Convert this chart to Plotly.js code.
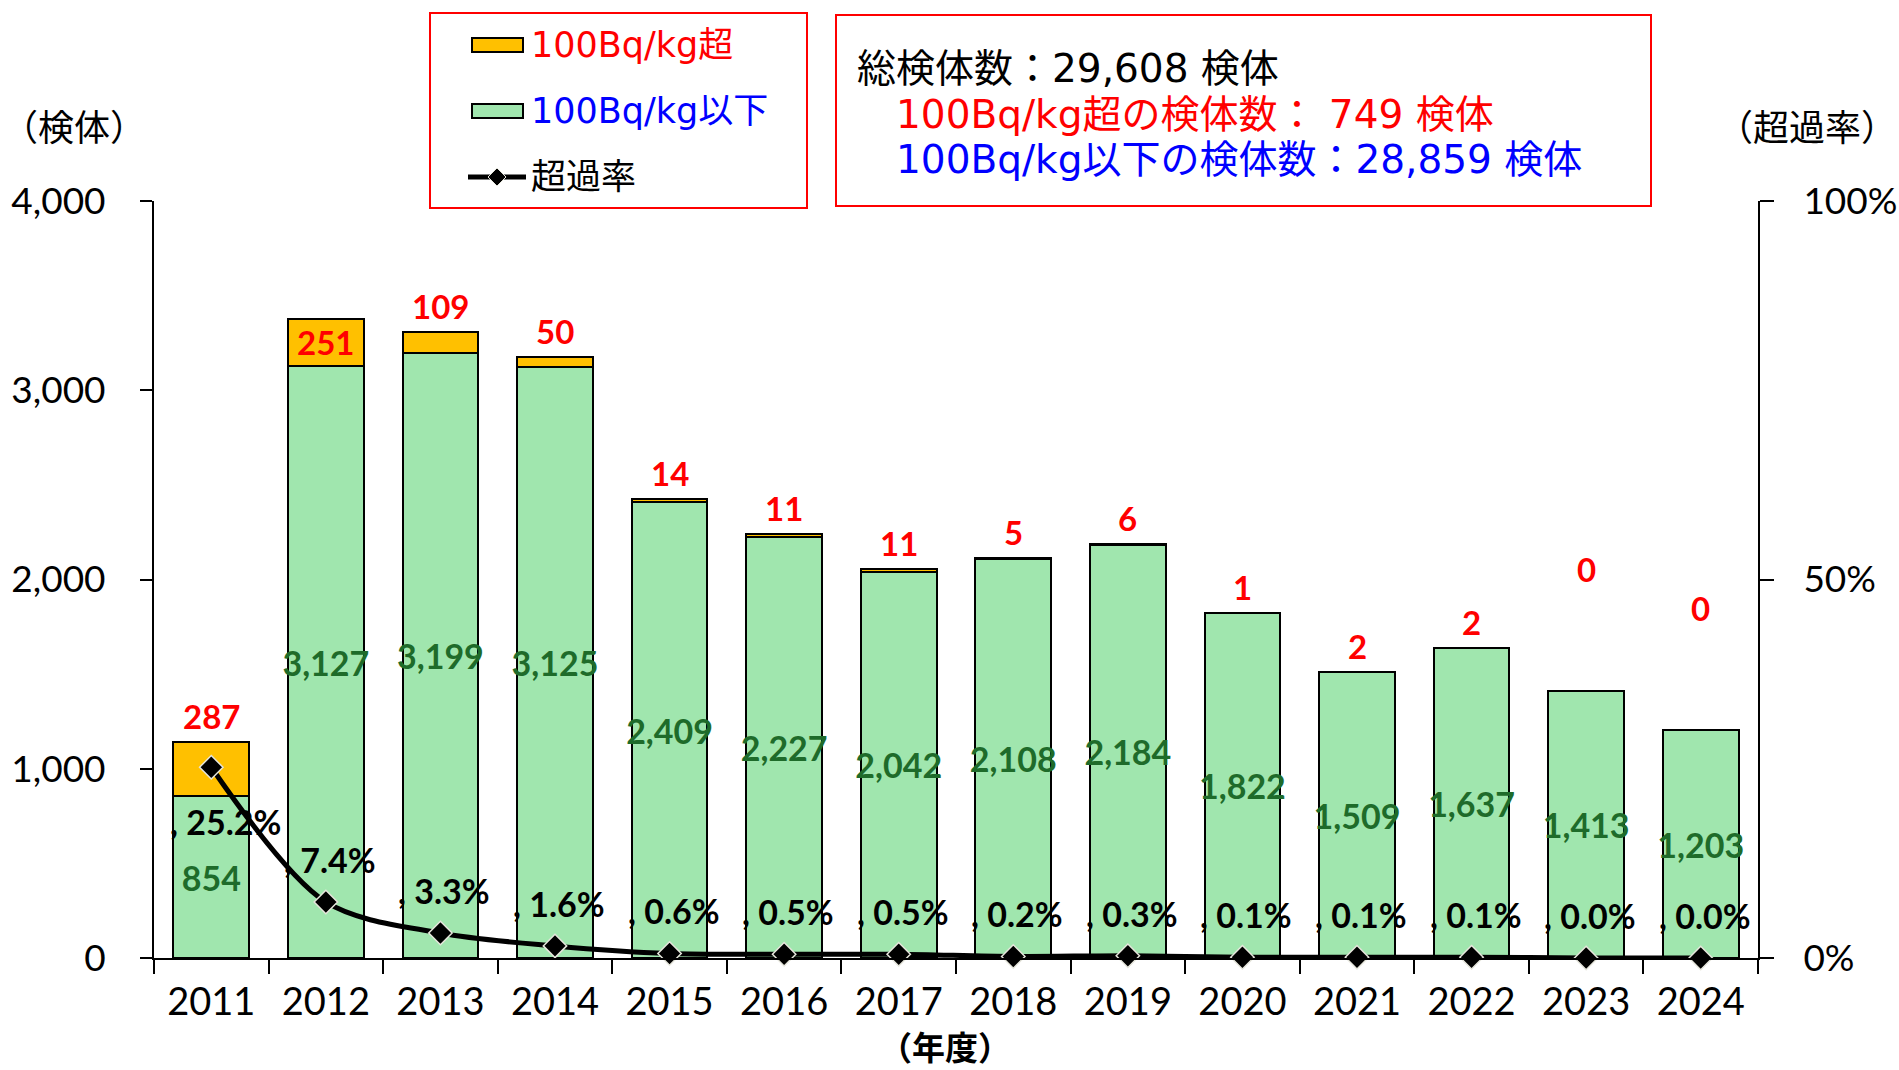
<!DOCTYPE html>
<html>
<head>
<meta charset="utf-8">
<script src="https://cdn.plot.ly/plotly-3.0.1.min.js"></script>
<style>
  html, body { margin: 0; padding: 0; background: #fff; }
  #chart { width: 1899px; height: 1070px; }
</style>
</head>
<body>
<div id="chart"></div>
<script>
// 年度
const years = ['2011', '2012', '2013', '2014', '2015', '2016', '2017',
               '2018', '2019', '2020', '2021', '2022', '2023', '2024'];
// 100Bq/kg超の検体数
const overCounts = [287, 251, 109, 50, 14, 11, 11, 5, 6, 1, 2, 2, 0, 0];
// 100Bq/kg以下の検体数
const underCounts = [854, 3127, 3199, 3125, 2409, 2227, 2042, 2108, 2184, 1822, 1509, 1637, 1413, 1203];
// 超過率 (%)
const exceedRate = [25.2, 7.4, 3.3, 1.6, 0.6, 0.5, 0.5, 0.2, 0.3, 0.1, 0.1, 0.1, 0.0, 0.0];

const W = 1899, H = 1070;
const M = { l: 154, r: 141, t: 201, b: 112 };
const plotW = W - M.l - M.r;
const plotH = H - M.t - M.b;
// pixel -> paper coords
const px = x => (x - M.l) / plotW;
const py = y => (H - M.b - y) / plotH;

const latinFont = 'Lato, "Noto Sans CJK JP", sans-serif';
const boxFont = '"DejaVu Sans", "Noto Sans CJK JP", sans-serif';
const cjkFont = '"Noto Sans CJK JP", sans-serif';

const fmt = n => n.toLocaleString('en-US');
const sum = a => a.reduce((s, v) => s + v, 0);

const green = '#A0E6AE';
const orange = '#FFC000';

const traces = [
    {
        type: 'bar',
        x: years,
        y: underCounts,
        name: '100Bq/kg以下',
        marker: { color: green, line: { color: '#000', width: 2 } },
        text: underCounts.map(v => '<b>' + fmt(v) + '</b>'),
        textposition: 'inside',
        insidetextanchor: 'middle',
        constraintext: 'none',
        textangle: 0,
        textfont: { family: latinFont, size: 34, color: '#1E6B2A' }
    },
    {
        type: 'bar',
        x: years,
        y: overCounts,
        name: '100Bq/kg超',
        marker: { color: orange, line: { color: '#000', width: 2 } }
    },
    {
        type: 'scatter',
        mode: 'lines+markers',
        x: years,
        y: exceedRate,
        yaxis: 'y2',
        name: '超過率',
        cliponaxis: false,
        line: { color: '#000', width: 5, shape: 'spline', smoothing: 0.9 },
        marker: { symbol: 'diamond', size: 18, color: '#000', line: { color: '#E6E6DC', width: 1.5 } }
    }
];

const annotations = [];

// 100Bq/kg超 labels (inside the orange segment only where it is tall and the line doesn't cross it)
years.forEach((yr, i) => {
    const v = overCounts[i];
    const inside = v > 150 && exceedRate[i] < 20;
    annotations.push({
        x: i, y: inside ? underCounts[i] + v / 2 : underCounts[i] + v,
        xref: 'x', yref: 'y',
        text: '<b>' + v + '</b>',
        showarrow: false,
        xanchor: 'center',
        yanchor: inside ? 'middle' : 'bottom',
        yshift: inside ? 0 : (v === 0 ? 100 : 4),
        font: { family: latinFont, size: 33, color: '#FF0000' }
    });
});

// 超過率 labels
years.forEach((yr, i) => {
    const r = exceedRate[i];
    const below = r > 10;
    annotations.push({
        x: i, y: r,
        xref: 'x', yref: 'y2',
        text: '<b>, ' + r.toFixed(1) + '%</b>',
        showarrow: false,
        xanchor: 'center',
        yanchor: below ? 'top' : 'bottom',
        yshift: below ? -32 : 20,
        xshift: below ? 14 : 4,
        font: { family: latinFont, size: 34, color: '#000' }
    });
});

// axis titles
annotations.push(
    { xref: 'paper', yref: 'paper', x: px(0), y: py(125), xanchor: 'left', yanchor: 'middle',
      text: '（検体）', showarrow: false, font: { family: cjkFont, size: 36, color: '#000' } },
    { xref: 'paper', yref: 'paper', x: px(1899), y: py(125), xanchor: 'right', yanchor: 'middle',
      text: '（超過率）', showarrow: false, font: { family: cjkFont, size: 36, color: '#000' } },
    { xref: 'paper', yref: 'paper', x: px(945), y: py(1046), xanchor: 'center', yanchor: 'middle',
      text: '<b>（年度）</b>', showarrow: false, font: { family: cjkFont, size: 33, color: '#000' } }
);

// summary box
const overTotal = sum(overCounts);
const underTotal = sum(underCounts);
const summaryLines = [
    { text: '総検体数：' + fmt(overTotal + underTotal) + ' 検体', color: '#000', x: 855, y: 69 },
    { text: '100Bq/kg超の検体数： ' + fmt(overTotal) + ' 検体', color: '#FF0000', x: 894, y: 114 },
    { text: '100Bq/kg以下の検体数：' + fmt(underTotal) + ' 検体', color: '#0000FF', x: 894, y: 159 }
];
summaryLines.forEach(l => annotations.push({
    xref: 'paper', yref: 'paper', x: px(l.x), y: py(l.y), xanchor: 'left', yanchor: 'middle',
    text: l.text, showarrow: false,
    font: { family: boxFont, size: 39, color: l.color }
}));

// legend (drawn by hand to get the wide Excel swatches)
const legendItems = [
    { text: '100Bq/kg超', color: '#FF0000', y: 45, fill: orange },
    { text: '100Bq/kg以下', color: '#0000FF', y: 111, fill: green },
    { text: '超過率', color: '#000', y: 177, fill: null }
];
const shapes = [
    { type: 'rect', xref: 'paper', yref: 'paper', x0: px(430), x1: px(807), y0: py(208), y1: py(13),
      line: { color: '#FF0000', width: 2 } },
    { type: 'rect', xref: 'paper', yref: 'paper', x0: px(836), x1: px(1651), y0: py(206), y1: py(15),
      line: { color: '#FF0000', width: 2 } }
];
legendItems.forEach(it => {
    annotations.push({
        xref: 'paper', yref: 'paper', x: px(529), y: py(it.y), xanchor: 'left', yanchor: 'middle',
        text: it.text, showarrow: false,
        font: { family: boxFont, size: 35, color: it.color }
    });
    if (it.fill) {
        shapes.push({ type: 'rect', xref: 'paper', yref: 'paper',
            x0: px(472), x1: px(523), y0: py(it.y + 7), y1: py(it.y - 7),
            fillcolor: it.fill, line: { color: '#000', width: 2 } });
    } else {
        shapes.push({ type: 'line', xref: 'paper', yref: 'paper',
            x0: px(468), x1: px(526), y0: py(it.y), y1: py(it.y),
            line: { color: '#000', width: 5 } });
        const d = 9;
        shapes.push({ type: 'path', xref: 'paper', yref: 'paper',
            path: 'M' + px(497 - d) + ',' + py(it.y) + ' L' + px(497) + ',' + py(it.y - d) +
                  ' L' + px(497 + d) + ',' + py(it.y) + ' L' + px(497) + ',' + py(it.y + d) + ' Z',
            fillcolor: '#000', line: { color: '#E6E6DC', width: 1 } });
    }
});

const layout = {
    width: W,
    height: H,
    margin: M,
    paper_bgcolor: '#fff',
    plot_bgcolor: '#fff',
    barmode: 'stack',
    bargap: 0.34,
    showlegend: false,
    xaxis: {
        type: 'category',
        range: [-0.5, years.length - 0.5],
        tickson: 'boundaries',
        ticks: 'outside',
        ticklen: 14,
        tickwidth: 2,
        tickcolor: '#000',
        showline: true,
        linecolor: '#000',
        linewidth: 2,
        showgrid: false,
        tickangle: 0,
        ticklabelstandoff: 9,
        tickfont: { family: latinFont, size: 38, color: '#000' }
    },
    yaxis: {
        range: [0, 4000],
        dtick: 1000,
        tickformat: ',',
        ticks: 'outside',
        ticklen: 12,
        tickwidth: 2,
        tickcolor: '#000',
        showline: true,
        linecolor: '#000',
        linewidth: 2,
        showgrid: false,
        zeroline: false,
        ticklabelstandoff: 27,
        tickfont: { family: latinFont, size: 37, color: '#000' }
    },
    yaxis2: {
        overlaying: 'y',
        side: 'right',
        range: [0, 100],
        dtick: 50,
        ticksuffix: '%',
        ticks: 'outside',
        ticklen: 14,
        tickwidth: 2,
        tickcolor: '#000',
        showline: true,
        linecolor: '#000',
        linewidth: 2,
        showgrid: false,
        zeroline: false,
        ticklabelstandoff: 22,
        tickfont: { family: latinFont, size: 37, color: '#000' }
    },
    annotations: annotations,
    shapes: shapes
};

Plotly.newPlot('chart', traces, layout, { staticPlot: true });
</script>
</body>
</html>
